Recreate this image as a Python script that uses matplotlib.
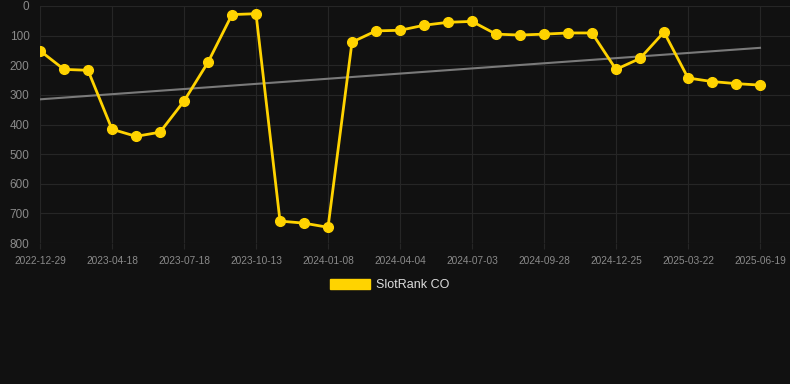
import matplotlib
matplotlib.use('Agg')
import matplotlib.pyplot as plt
from matplotlib.patches import Patch
import numpy as np

plt.rcParams['font.family'] = ['Liberation Sans', 'DejaVu Sans']

# rank per snapshot (lower is better)
ranks = [151, 214, 217, 416, 440, 426, 321, 190, 29, 26,
         726, 733, 747, 122, 84, 82, 65, 55, 52, 95,
         98, 95, 91, 91, 214, 177, 88, 243, 255, 262, 267]
tick_labels = ['2022-12-29', '2023-04-18', '2023-07-18', '2023-10-13',
               '2024-01-08', '2024-04-04', '2024-07-03', '2024-09-28',
               '2024-12-25', '2025-03-22', '2025-06-19']
y_ticks = [0, 100, 200, 300, 400, 500, 600, 700, 800]
series_name = 'SlotRank CO'

bg = '#111111'
yellow = '#FFD300'
grid_c = '#262626'
text_c = '#8a8a8a'

x = np.arange(len(ranks))
tick_pos = x[::3]

fig = plt.figure(figsize=(7.9, 3.84), dpi=100, facecolor=bg)
ax = fig.add_axes([40/790, 141/384, 750/790, 237/384], facecolor=bg)

# trend line (least squares)
k, b = np.polyfit(x, ranks, 1)
ax.plot(x, k*x + b, color='#7a7a7a', linewidth=1.5, zorder=2)

ax.plot(x, ranks, color=yellow, linewidth=2, marker='o', markersize=7,
        markerfacecolor=yellow, markeredgecolor=yellow, zorder=3)

ax.set_xlim(0, 750/24)
ax.set_ylim(800, 0)
ax.set_yticks(y_ticks)
ax.set_xticks(tick_pos)
ax.set_xticklabels(tick_labels)
ax.grid(True, color=grid_c, linewidth=0.8)
ax.set_axisbelow(True)
for s in ax.spines.values():
    s.set_visible(False)
ax.tick_params(axis='y', length=0, pad=7.5, labelsize=8.5, labelcolor=text_c)
ax.tick_params(axis='x', length=4, color=grid_c, pad=5, labelsize=7.3, labelcolor=text_c)

handle = Patch(facecolor=yellow, edgecolor=yellow)
fig.legend([handle], [series_name], loc='center', bbox_to_anchor=(390/790, 99/384),
           frameon=False, fontsize=9, labelcolor='#dddddd',
           handlelength=3.2, handleheight=0.9, handletextpad=0.5)

fig.savefig('out.png', dpi=100, facecolor=bg)
